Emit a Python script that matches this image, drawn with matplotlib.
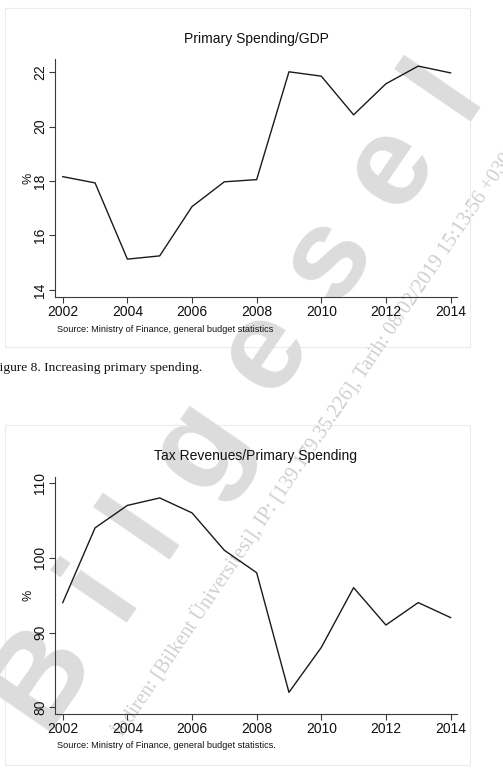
import math
import matplotlib
matplotlib.use("Agg")
import matplotlib.pyplot as plt
from matplotlib.patches import Rectangle

years = [2002, 2003, 2004, 2005, 2006, 2007, 2008, 2009, 2010, 2011, 2012, 2013, 2014]
spending_gdp = [18.16, 17.93, 15.13, 15.25, 17.06, 17.97, 18.05, 22.01, 21.85, 20.43, 21.57, 22.22, 21.97]
tax_rev_spending = [94.0, 104.0, 107.0, 108.0, 106.0, 101.0, 98.0, 82.0, 88.0, 96.0, 91.0, 94.0, 92.0]

x_ticks = [2002, 2004, 2006, 2008, 2010, 2012, 2014]
y_ticks_top = [14, 16, 18, 20, 22]
y_ticks_bot = [80, 90, 100, 110]

title_top = "Primary Spending/GDP"
title_bot = "Tax Revenues/Primary Spending"
source_top = "Source: Ministry of Finance, general budget statistics"
source_bot = "Source: Ministry of Finance, general budget statistics."
caption = "Figure 8. Increasing primary spending."
watermark = "Bilgesel"
watermark_small = "İndiren: [Bilkent Üniversitesi], IP: [139.179.35.226], Tarih: 08/02/2019 15:13:56 +0300"

W, H = 503, 775
fig = plt.figure(figsize=(W / 100, H / 100), dpi=100)
fig.patch.set_facecolor("white")
plt.rcParams["font.family"] = ["Liberation Sans", "DejaVu Sans"]


def fx(px):
    return px / W


def fy(py):
    return 1 - py / H


# panel frames
for (x0, y0, x1, y1) in [(5, 8, 470, 347), (5, 425, 470, 765)]:
    fig.add_artist(Rectangle((fx(x0), fy(y1)), fx(x1) - fx(x0), fy(y0) - fy(y1),
                             transform=fig.transFigure, fill=False,
                             edgecolor="#ececec", linewidth=0.8, zorder=-5))

# watermark: big letters along a 55-degree baseline
adv = {"B": 0.722, "i": 0.278, "l": 0.278, "g": 0.611, "e": 0.556, "s": 0.556}
wm_size = 92
em = wm_size * 100 / 72
gap = 0.32
ang = 55.5
dx, dy = math.cos(math.radians(ang)), -math.sin(math.radians(ang))
base_x, base_y = 128, 608  # baseline point of the "i"
dists = [0.0]
for a, b in zip(watermark[:-1], watermark[1:]):
    dists.append(dists[-1] + (adv[a] / 2 + gap + adv[b] / 2) * em)
offset = dists[1]
for ch, d in zip(watermark, dists):
    d = d - offset
    fig.text(fx(base_x + d * dx), fy(base_y + d * dy), ch, rotation=ang,
             rotation_mode="anchor", ha="center", va="baseline",
             fontsize=wm_size, fontweight="bold", color="#dcdcdc",
             family="Liberation Sans", zorder=-2)

fig.text(fx(316), fy(440), watermark_small, rotation=56, rotation_mode="anchor",
         ha="center", va="center", fontsize=14.5, color="#cfcfcf",
         family="Liberation Serif", zorder=-2)


def make_panel(rect, values, yticks, ylim, title, title_y, source, source_y):
    ax = fig.add_axes(rect)
    ax.set_facecolor("none")
    ax.plot(years, values, color="#1a1a1a", linewidth=1.0)
    ax.set_xlim(2001.76, 2014.2)
    ax.set_ylim(*ylim)
    ax.set_xticks(x_ticks)
    ax.set_xticklabels([str(t) for t in x_ticks], fontsize=10)
    ax.set_yticks(yticks)
    ax.set_yticklabels([str(t) for t in yticks], fontsize=10, rotation=90, va="center")
    for s in ["top", "right"]:
        ax.spines[s].set_visible(False)
    for s in ["left", "bottom"]:
        ax.spines[s].set_color("#3a3a3a")
        ax.spines[s].set_linewidth(0.8)
    ax.tick_params(axis="both", direction="out", length=4, width=0.8, color="#3a3a3a",
                   labelcolor="#111111")
    ax.tick_params(axis="x", pad=1.5)
    ax.tick_params(axis="y", pad=1.5)
    ax.set_ylabel("%", fontsize=9, rotation=90, color="#111111")
    ax.yaxis.set_label_coords((34 - 55) / 402, 0.5)
    fig.text(fx(256), fy(title_y), title, ha="center", va="center", fontsize=10,
             color="#111111")
    fig.text(fx(57), fy(source_y), source, ha="left", va="center", fontsize=6.6,
             color="#111111")
    return ax


make_panel([fx(55), fy(297), fx(457) - fx(55), fy(59) - fy(297)],
           spending_gdp, y_ticks_top, (13.74, 22.48), title_top, 39, source_top, 329)
make_panel([fx(55), fy(714), fx(457) - fx(55), fy(476.7) - fy(714)],
           tax_rev_spending, y_ticks_bot, (79.1, 110.84), title_bot, 456, source_bot, 746)

fig.text(fx(202), fy(368), caption, ha="right", va="center", fontsize=9.7,
         family="Liberation Serif", color="#111111")

fig.savefig("out.png", dpi=100)
